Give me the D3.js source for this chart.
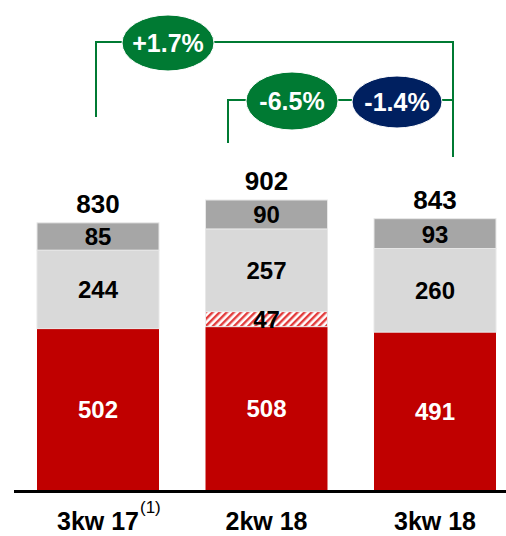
<!DOCTYPE html>
<html>
<head>
<meta charset="utf-8">
<script src="https://cdn.jsdelivr.net/npm/d3@7"></script>
<style>
  body { margin: 0; background: #fff; }
  text { font-family: "Liberation Sans", Arial, sans-serif; font-weight: bold; }
</style>
</head>
<body>
<svg width="506" height="536"></svg>
<script>
// data
var categories = ['3kw 17', '2kw 18', '3kw 18'];
var superscripts = ['(1)', '', ''];
var baseValues = [502, 508, 491];     // red
var hatchValues = [0, 47, 0];         // red hatched
var midValues = [244, 257, 260];      // light gray
var topValues = [85, 90, 93];         // dark gray
var totals = [830, 902, 843];
var changeLabels = ['+1.7%', '-6.5%', '-1.4%'];

var svg = d3.select('svg');

var x = d3.scaleBand()
  .domain(categories)
  .range([37, 496])
  .paddingInner(0.276)
  .paddingOuter(0);

var y = d3.scaleLinear()
  .domain([0, 902])
  .range([490, 200]);

// hatch pattern for the 47 segment
var defs = svg.append('defs');
var pat = defs.append('pattern')
  .attr('id', 'hatch')
  .attr('patternUnits', 'userSpaceOnUse')
  .attr('width', 5)
  .attr('height', 5)
  .attr('patternTransform', 'rotate(45)');
pat.append('rect').attr('width', 5).attr('height', 5).attr('fill', '#fff');
pat.append('rect').attr('width', 2.4).attr('height', 5).attr('fill', '#E23B3B');

// stack the segments
var segments = [];
categories.forEach(function(c, i) {
  var parts = [
    {v: baseValues[i], fill: '#C00000', color: '#fff'},
    {v: hatchValues[i], fill: 'url(#hatch)', color: '#000'},
    {v: midValues[i], fill: '#D9D9D9', color: '#000'},
    {v: topValues[i], fill: '#A6A6A6', color: '#000'}
  ];
  var acc = 0;
  parts.forEach(function(p) {
    if (p.v > 0) {
      segments.push({cat: c, y0: acc, y1: acc + p.v, v: p.v, fill: p.fill, color: p.color});
    }
    acc += p.v;
  });
});

var bars = svg.append('g');

bars.selectAll('rect')
  .data(segments)
  .enter().append('rect')
  .attr('x', function(d) { return x(d.cat); })
  .attr('y', function(d) { return y(d.y1); })
  .attr('width', x.bandwidth())
  .attr('height', function(d) { return y(d.y0) - y(d.y1); })
  .attr('fill', function(d) { return d.fill; })
  .attr('stroke', function(d) { return d.fill === '#C00000' ? 'none' : '#e8e8e8'; })
  .attr('stroke-width', 1);

bars.selectAll('text.seg')
  .data(segments)
  .enter().append('text')
  .attr('class', 'seg')
  .attr('x', function(d) { return x(d.cat) + x.bandwidth() / 2; })
  .attr('y', function(d) { return (y(d.y0) + y(d.y1)) / 2 + 9; })
  .attr('text-anchor', 'middle')
  .attr('font-size', 24)
  .attr('fill', function(d) { return d.color; })
  .text(function(d) { return d.v; });

// totals
svg.selectAll('text.total')
  .data(totals)
  .enter().append('text')
  .attr('class', 'total')
  .attr('x', function(d, i) { return x(categories[i]) + x.bandwidth() / 2; })
  .attr('y', function(d) { return y(d) - 10; })
  .attr('text-anchor', 'middle')
  .attr('font-size', 26)
  .attr('fill', '#000')
  .text(function(d) { return d; });

// baseline
svg.append('line')
  .attr('x1', 14).attr('x2', 506)
  .attr('y1', y(0) + 1.5).attr('y2', y(0) + 1.5)
  .attr('stroke', '#000')
  .attr('stroke-width', 3);

// category labels (main text centred, superscript hanging to the right)
svg.selectAll('text.cat')
  .data(categories)
  .enter().append('text')
  .attr('class', 'cat')
  .attr('x', function(d) { return x(d) + x.bandwidth() / 2; })
  .attr('y', 530)
  .attr('text-anchor', 'middle')
  .attr('font-size', 25)
  .attr('fill', '#000')
  .text(function(d) { return d; })
  .each(function(d, i) {
    if (!superscripts[i]) return;
    var w = this.getComputedTextLength();
    svg.append('text')
      .attr('x', x(d) + x.bandwidth() / 2 + w / 2 + 1)
      .attr('y', 513)
      .attr('font-size', 17)
      .style('font-weight', 'normal')
      .attr('fill', '#000')
      .text(superscripts[i]);
  });

// change brackets
var green = '#007A33';
var ann = svg.append('g')
  .attr('fill', 'none')
  .attr('stroke', green)
  .attr('stroke-width', 2);
ann.append('path').attr('d', 'M96,117 V42 H453 V157');
ann.append('path').attr('d', 'M228,143 V100 H453');

var bubbles = [
  {cx: 168, cy: 43, rx: 46, ry: 28, fill: green},
  {cx: 292, cy: 101, rx: 46, ry: 29, fill: green},
  {cx: 397, cy: 102, rx: 45, ry: 26, fill: '#002060'}
];

var bub = svg.selectAll('g.bubble')
  .data(bubbles)
  .enter().append('g')
  .attr('class', 'bubble');
bub.append('ellipse')
  .attr('cx', function(d) { return d.cx; })
  .attr('cy', function(d) { return d.cy; })
  .attr('rx', function(d) { return d.rx; })
  .attr('ry', function(d) { return d.ry; })
  .attr('fill', function(d) { return d.fill; })
  .attr('stroke', '#fff')
  .attr('stroke-width', 1);
bub.append('text')
  .attr('x', function(d) { return d.cx; })
  .attr('y', function(d) { return d.cy + 9; })
  .attr('text-anchor', 'middle')
  .attr('font-size', 25)
  .attr('fill', '#fff')
  .text(function(d, i) { return changeLabels[i]; });
</script>
</body>
</html>
